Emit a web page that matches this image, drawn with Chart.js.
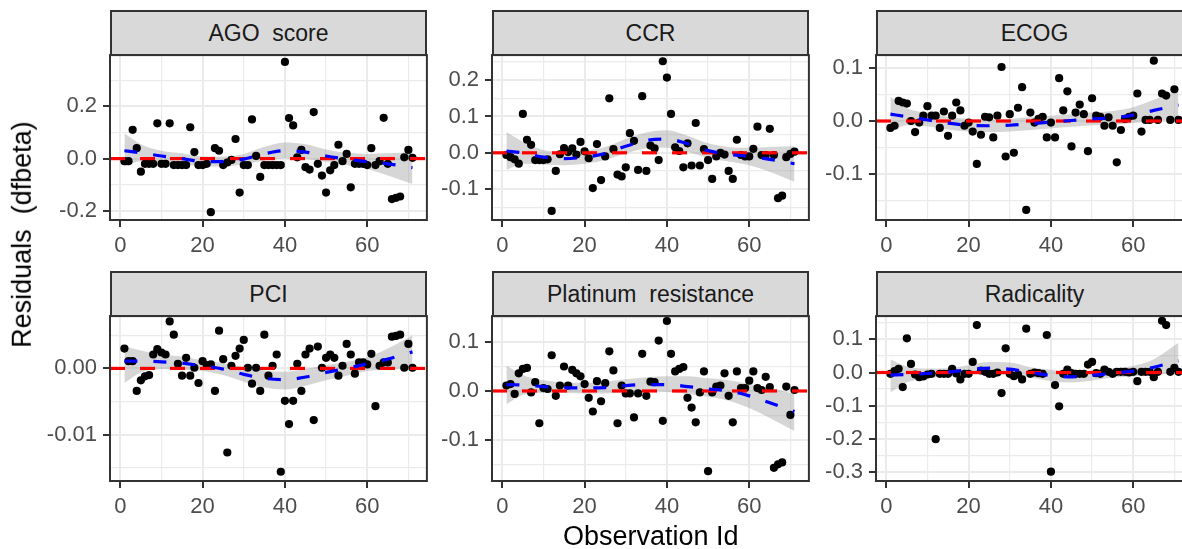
<!DOCTYPE html>
<html>
<head>
<meta charset="utf-8">
<script src="https://cdn.jsdelivr.net/npm/chart.js@4.4.1/dist/chart.umd.min.js"></script>
<style>
html,body{margin:0;padding:0;background:#fff;overflow:hidden;width:1182px;height:549px;}
#wrap{position:relative;width:1182px;height:549px;overflow:hidden;font-family:"Liberation Sans",Arial,sans-serif;}
.strip{position:absolute;box-sizing:border-box;background:#d9d9d9;border:2px solid #333;display:flex;align-items:center;justify-content:center;font-size:23px;color:#1a1a1a;white-space:pre;}
canvas{position:absolute;}
.title{position:absolute;font-size:27px;color:#000;white-space:pre;line-height:1;}
</style>
</head>
<body>
<div id="wrap"></div>
<script>
// ---------- data ----------
const OBS_ID = [1,2,3,4,5,6,7,8,9,10,11,12,13,14,15,16,17,18,19,20,21,22,23,24,25,26,27,28,29,30,31,32,33,34,35,36,37,38,39,40,41,42,43,44,45,46,47,48,49,50,51,52,53,54,55,56,57,58,59,60,61,62,63,64,65,66,67,68,69,70,71];
const SMOOTH_X = [1,5,10,15,20,25,30,35,40,45,50,55,60,65,71];
const PANEL_TITLES = ["AGO  score","CCR","ECOG","PCI","Platinum  resistance","Radicality"];

const AGO_VALUES = [-0.01,-0.01,0.11,0.04,-0.05,-0.02,-0.02,-0.02,0.135,-0.02,
 -0.02,0.135,-0.025,-0.025,-0.025,-0.025,0.12,0.025,-0.025,-0.025,
 -0.02,-0.205,0.04,0.03,-0.025,-0.015,-0.005,0.075,-0.13,-0.025,
 -0.025,0.15,0.01,-0.07,-0.025,-0.025,-0.025,-0.025,-0.025,0.37,
 0.155,0.127,0.005,0.033,-0.033,-0.042,0.178,-0.02,-0.065,-0.13,
 -0.045,-0.025,0.053,-0.01,0.018,-0.11,-0.02,-0.02,-0.02,-0.025,
 0.04,-0.025,-0.01,0.156,-0.02,-0.155,-0.15,-0.145,0.005,0.033,
 0.003];
const AGO_FIT = [0.03,0.022,0.01,0.0,-0.012,-0.012,-0.002,0.018,0.03,0.025,0.01,-0.002,-0.012,-0.02,-0.035];
const AGO_LO  = [-0.03,-0.01,-0.012,-0.02,-0.03,-0.03,-0.022,-0.008,0.0,-0.002,-0.012,-0.025,-0.04,-0.065,-0.097];
const AGO_HI  = [0.097,0.055,0.03,0.02,0.008,0.008,0.018,0.045,0.062,0.055,0.035,0.022,0.018,0.02,0.025];

const CCR_VALUES = [-0.006,-0.012,-0.018,-0.03,0.107,0.036,0.022,-0.02,-0.02,-0.02,
 -0.018,-0.16,-0.05,-0.004,0.013,0.002,0.012,-0.005,0.03,0.004,
 -0.015,-0.097,0.024,-0.075,-0.01,0.15,0.01,-0.06,-0.065,-0.04,
 0.054,0.033,-0.047,0.156,-0.05,0.02,0.012,-0.02,0.252,0.207,
 0.107,0.015,0.005,-0.04,0.026,-0.035,0.082,-0.035,0.01,-0.02,
 -0.072,-0.01,0.0,-0.005,-0.05,-0.072,0.036,-0.006,-0.01,-0.01,
 0.011,0.072,-0.006,-0.006,0.066,-0.006,-0.125,-0.118,-0.012,-0.003,
 0.003];
const CCR_FIT = [0.005,0.0,-0.012,-0.016,-0.012,-0.002,0.018,0.034,0.038,0.025,0.006,-0.004,-0.01,-0.018,-0.03];
const CCR_LO  = [-0.047,-0.03,-0.032,-0.034,-0.03,-0.02,-0.002,0.012,0.014,0.003,-0.014,-0.024,-0.034,-0.052,-0.08];
const CCR_HI  = [0.057,0.03,0.008,0.003,0.006,0.016,0.038,0.056,0.062,0.047,0.026,0.016,0.014,0.016,0.018];

const ECOG_VALUES = [-0.013,-0.009,0.038,0.035,0.033,0.0,-0.021,-0.003,0.01,0.028,
 0.01,0.01,-0.013,0.018,-0.028,0.01,0.035,0.02,-0.009,-0.003,
 -0.02,-0.081,-0.026,0.008,0.007,-0.031,0.01,0.102,-0.067,0.013,
 -0.06,0.025,0.064,-0.168,0.016,-0.003,0.004,0.008,-0.031,-0.003,
 -0.031,0.081,0.02,0.056,-0.048,0.016,0.031,0.013,-0.057,0.043,
 0.01,0.008,-0.009,0.007,-0.009,-0.078,-0.017,0.004,0.008,0.01,
 0.052,-0.02,0.002,0.002,0.114,0.002,0.052,0.048,0.002,0.06,
 0.002];
const ECOG_FIT = [0.013,0.008,0.002,-0.004,-0.008,-0.009,-0.008,-0.005,-0.002,0.001,0.004,0.006,0.011,0.02,0.03];
const ECOG_LO  = [-0.02,-0.008,-0.01,-0.016,-0.02,-0.021,-0.02,-0.017,-0.014,-0.011,-0.008,-0.007,-0.004,0.0,0.002];
const ECOG_HI  = [0.046,0.024,0.015,0.008,0.004,0.003,0.004,0.007,0.01,0.013,0.016,0.019,0.026,0.04,0.058];

const PCI_VALUES = [0.0030,0.0011,0.0011,-0.0034,-0.0018,-0.0012,-0.0010,0.0021,0.0029,0.0024,
 0.0021,0.0071,0.0051,0.0007,-0.0011,0.0016,-0.0011,0.0001,-0.0022,0.0011,
 0.0005,0.0006,-0.0034,0.0057,0.0014,-0.0127,0.0004,0.0019,0.0030,0.0043,
 0.0001,-0.0023,0.0001,-0.0034,0.0051,-0.0011,0.0004,0.0021,-0.0156,-0.0049,
 -0.0084,-0.0049,0.0007,-0.0034,0.0021,0.0030,-0.0078,0.0033,0.0001,0.0016,
 0.0021,0.0016,-0.0011,0.0004,0.0037,0.0021,-0.0008,0.0009,0.0009,0.0006,
 0.0022,-0.0057,0.0004,0.0009,0.0009,0.0048,0.0049,0.0051,0.0001,0.0037,
 0.0001];
const PCI_FIT = [0.0011,0.0011,0.0010,0.0008,0.0004,-0.0001,-0.0009,-0.0015,-0.0017,-0.0013,-0.0006,0.0000,0.0007,0.0014,0.0025];
const PCI_LO  = [-0.0022,-0.0006,-0.0001,-0.0002,-0.0004,-0.0010,-0.0020,-0.0029,-0.0032,-0.0026,-0.0018,-0.0011,-0.0004,-0.0002,0.0001];
const PCI_HI  = [0.0034,0.0027,0.0021,0.0018,0.0012,0.0008,0.0002,-0.0003,-0.0005,-0.0001,0.0005,0.0010,0.0017,0.0030,0.0050];

const PLAT_VALUES = [0.011,0.014,-0.006,0.036,0.045,0.047,-0.003,0.018,-0.066,0.006,
 0.004,0.073,-0.01,0.011,0.05,0.011,0.043,0.036,0.03,0.014,
 -0.014,-0.042,0.02,-0.021,0.016,0.081,0.042,-0.066,0.011,-0.005,
 -0.005,-0.054,-0.005,0.076,-0.01,0.019,0.018,0.103,-0.061,0.143,
 0.076,0.04,0.045,0.049,-0.014,-0.034,-0.064,-0.003,0.04,-0.164,
 -0.003,0.009,0.011,0.036,-0.01,-0.064,0.04,0.006,0.006,0.021,
 0.04,0.006,0.002,0.029,0.008,-0.157,-0.15,-0.146,0.009,-0.049,
 0.002];
const PLAT_FIT = [0.013,0.012,0.009,0.007,0.006,0.007,0.011,0.013,0.013,0.009,0.004,0.0,-0.01,-0.024,-0.042];
const PLAT_LO  = [-0.027,-0.008,-0.004,-0.004,-0.005,-0.005,-0.002,0.0,-0.002,-0.006,-0.012,-0.02,-0.035,-0.055,-0.082];
const PLAT_HI  = [0.052,0.032,0.022,0.018,0.017,0.019,0.024,0.028,0.03,0.03,0.026,0.022,0.014,0.006,-0.006];

const RAD_VALUES = [-0.004,0.004,0.011,-0.044,0.103,0.026,-0.006,-0.014,-0.012,-0.006,
 -0.004,-0.201,-0.004,-0.004,-0.004,0.011,-0.003,-0.021,-0.004,-0.004,
 0.032,0.143,0.006,0.002,-0.004,-0.004,0.0,-0.062,0.073,-0.004,
 -0.011,-0.006,-0.021,0.132,-0.004,0.0,-0.002,-0.004,0.113,-0.299,
 -0.038,-0.102,-0.004,0.009,-0.002,-0.004,-0.004,-0.004,0.024,0.032,
 -0.002,-0.004,0.009,0.002,-0.004,0.002,0.002,0.002,0.0,0.002,
 -0.026,0.002,0.002,0.002,-0.014,0.002,0.156,0.143,0.002,0.014,
 0.002];
const RAD_FIT = [-0.008,-0.006,-0.003,0.001,0.008,0.013,0.01,0.0,-0.009,-0.013,-0.009,-0.002,0.004,0.016,0.035];
const RAD_LO  = [-0.06,-0.03,-0.018,-0.011,-0.006,-0.005,-0.008,-0.016,-0.026,-0.03,-0.024,-0.016,-0.012,-0.006,-0.002];
const RAD_HI  = [0.04,0.018,0.012,0.013,0.022,0.032,0.03,0.016,0.008,0.004,0.006,0.012,0.02,0.04,0.09];

// reference line value
const REF_Y = 0;

// axes / ticks
const X_RANGE = [-2.5, 74.5];
const X_MAJOR = [0,20,40,60];
const X_LABELS = ["0","20","40","60"];
const X_MINOR = [10,30,50,70];

const AGO_Y_RANGE = [-0.235, 0.396];
const AGO_Y_MAJOR = [-0.2,0,0.2];
const AGO_Y_LABELS = ["-0.2","0.0","0.2"];
const AGO_Y_MINOR = [-0.1,0.1,0.3];

const CCR_Y_RANGE = [-0.185, 0.269];
const CCR_Y_MAJOR = [-0.1,0,0.1,0.2];
const CCR_Y_LABELS = ["-0.1","0.0","0.1","0.2"];
const CCR_Y_MINOR = [-0.15,-0.05,0.05,0.15,0.25];

const ECOG_Y_RANGE = [-0.187, 0.1245];
const ECOG_Y_MAJOR = [-0.1,0,0.1];
const ECOG_Y_LABELS = ["-0.1","0.0","0.1"];
const ECOG_Y_MINOR = [-0.15,-0.05,0.05];

const PCI_Y_RANGE = [-0.0170, 0.0079];
const PCI_Y_MAJOR = [-0.01,0];
const PCI_Y_LABELS = ["-0.01","0.00"];
const PCI_Y_MINOR = [-0.015,-0.005,0.005];

const PLAT_Y_RANGE = [-0.184, 0.153];
const PLAT_Y_MAJOR = [-0.1,0,0.1];
const PLAT_Y_LABELS = ["-0.1","0.0","0.1"];
const PLAT_Y_MINOR = [-0.15,-0.05,0.05,0.15];

const RAD_Y_RANGE = [-0.327, 0.17];
const RAD_Y_MAJOR = [-0.3,-0.2,-0.1,0,0.1];
const RAD_Y_LABELS = ["-0.3","-0.2","-0.1","0.0","0.1"];
const RAD_Y_MINOR = [-0.25,-0.15,-0.05,0.05,0.15];

const X_TITLE = "Observation Id";
const Y_TITLE = "Residuals  (dfbeta)";

// ---------- layout ----------
const FONT = '"Liberation Sans", Arial, sans-serif';
const COLS = [110, 492, 876];
const ROWS = [{strip:10, plot:55}, {strip:271, plot:316}];
const PW = 317, PH = 165;
const YW = 80, XH = 50, PADT = 4, PADR = 4;

const PANELS = [
  {title:PANEL_TITLES[0], vals:AGO_VALUES, fit:AGO_FIT, lo:AGO_LO, hi:AGO_HI, yr:AGO_Y_RANGE, ymaj:AGO_Y_MAJOR, ylab:AGO_Y_LABELS, ymin:AGO_Y_MINOR, col:0, row:0},
  {title:PANEL_TITLES[1], vals:CCR_VALUES, fit:CCR_FIT, lo:CCR_LO, hi:CCR_HI, yr:CCR_Y_RANGE, ymaj:CCR_Y_MAJOR, ylab:CCR_Y_LABELS, ymin:CCR_Y_MINOR, col:1, row:0},
  {title:PANEL_TITLES[2], vals:ECOG_VALUES, fit:ECOG_FIT, lo:ECOG_LO, hi:ECOG_HI, yr:ECOG_Y_RANGE, ymaj:ECOG_Y_MAJOR, ylab:ECOG_Y_LABELS, ymin:ECOG_Y_MINOR, col:2, row:0},
  {title:PANEL_TITLES[3], vals:PCI_VALUES, fit:PCI_FIT, lo:PCI_LO, hi:PCI_HI, yr:PCI_Y_RANGE, ymaj:PCI_Y_MAJOR, ylab:PCI_Y_LABELS, ymin:PCI_Y_MINOR, col:0, row:1},
  {title:PANEL_TITLES[4], vals:PLAT_VALUES, fit:PLAT_FIT, lo:PLAT_LO, hi:PLAT_HI, yr:PLAT_Y_RANGE, ymaj:PLAT_Y_MAJOR, ylab:PLAT_Y_LABELS, ymin:PLAT_Y_MINOR, col:1, row:1},
  {title:PANEL_TITLES[5], vals:RAD_VALUES, fit:RAD_FIT, lo:RAD_LO, hi:RAD_HI, yr:RAD_Y_RANGE, ymaj:RAD_Y_MAJOR, ylab:RAD_Y_LABELS, ymin:RAD_Y_MINOR, col:2, row:1}
];

const wrap = document.getElementById('wrap');

const borderPlugin = {
  id:'panelBorder',
  afterDraw(chart){
    const a = chart.chartArea, c = chart.ctx;
    c.save();
    c.strokeStyle = '#333333';
    c.lineWidth = 2;
    c.strokeRect(a.left, a.top, a.right - a.left, a.bottom - a.top);
    c.restore();
  }
};

function isIn(arr, v){ return arr.some(a => Math.abs(a - v) < 1e-9); }

function makePanel(p){
  const left = COLS[p.col], top = ROWS[p.row].plot;
  const s = document.createElement('div');
  s.className = 'strip';
  s.style.left = left + 'px';
  s.style.top = ROWS[p.row].strip + 'px';
  s.style.width = PW + 'px';
  s.style.height = (top - ROWS[p.row].strip + 1) + 'px';
  s.textContent = p.title;
  wrap.appendChild(s);

  const cv = document.createElement('canvas');
  const W = YW + PW + PADR, H = PADT + PH + XH;
  cv.width = W; cv.height = H;
  cv.style.width = W + 'px'; cv.style.height = H + 'px';
  cv.style.left = (left - YW) + 'px';
  cv.style.top = (top - PADT) + 'px';
  wrap.appendChild(cv);

  const xTicks = X_MAJOR.concat(X_MINOR).sort((a,b)=>a-b);
  const yTicks = p.ymaj.concat(p.ymin).sort((a,b)=>a-b);

  const points = OBS_ID.map((x,i)=>({x:x, y:p.vals[i]}));
  const fit = SMOOTH_X.map((x,i)=>({x:x, y:p.fit[i]}));
  const lo = SMOOTH_X.map((x,i)=>({x:x, y:p.lo[i]}));
  const hi = SMOOTH_X.map((x,i)=>({x:x, y:p.hi[i]}));
  const ref = [{x:X_RANGE[0], y:REF_Y}, {x:X_RANGE[1], y:REF_Y}];

  new Chart(cv, {
    type:'scatter',
    data:{datasets:[
      {type:'line', data:lo, borderWidth:0, borderColor:'rgba(0,0,0,0)', pointRadius:0, fill:false, cubicInterpolationMode:'monotone', order:4},
      {type:'line', data:hi, borderWidth:0, borderColor:'rgba(0,0,0,0)', pointRadius:0, fill:0, backgroundColor:'rgba(153,153,153,0.4)', cubicInterpolationMode:'monotone', order:3},
      {type:'scatter', data:points, pointRadius:4.1, pointBackgroundColor:'#000', pointBorderWidth:0, pointBorderColor:'#000', order:2, clip:5},
      {type:'line', data:ref, borderColor:'#ff0000', borderWidth:3.2, borderDash:[15,15], pointRadius:0, fill:false, order:1},
      {type:'line', data:fit, borderColor:'#0000ff', borderWidth:3.2, borderDash:[13,16], pointRadius:0, fill:false, cubicInterpolationMode:'monotone', order:0}
    ]},
    options:{
      responsive:false, animation:false, devicePixelRatio:1,
      layout:{padding:{top:PADT, right:PADR, left:0, bottom:0}},
      plugins:{legend:{display:false}, tooltip:{enabled:false}},
      scales:{
        x:{type:'linear', min:X_RANGE[0], max:X_RANGE[1],
          afterBuildTicks(sc){ sc.ticks = xTicks.map(v=>({value:v})); },
          afterFit(sc){ sc.height = XH; sc.paddingLeft = 0; sc.paddingRight = 0; sc.paddingTop = 0; sc.paddingBottom = 0; },
          border:{display:false},
          grid:{
            color:'#ebebeb',
            lineWidth:(c)=> (c.tick && isIn(X_MAJOR, c.tick.value)) ? 2 : 1.2,
            tickLength:7,
            tickColor:(c)=> (c.tick && isIn(X_MAJOR, c.tick.value)) ? '#333333' : 'rgba(0,0,0,0)',
            tickWidth:2
          },
          ticks:{autoSkip:false, maxRotation:0, minRotation:0, padding:6, color:'#4d4d4d', font:{family:FONT, size:22},
            callback:(v)=>{ const i = X_MAJOR.findIndex(a=>Math.abs(a-v)<1e-9); return i>=0 ? X_LABELS[i] : ''; }}
        },
        y:{type:'linear', min:p.yr[0], max:p.yr[1],
          afterBuildTicks(sc){ sc.ticks = yTicks.map(v=>({value:v})); },
          afterFit(sc){ sc.width = YW; sc.paddingTop = 0; sc.paddingBottom = 0; sc.paddingLeft = 0; sc.paddingRight = 0; },
          border:{display:false},
          grid:{
            color:'#ebebeb',
            lineWidth:(c)=> (c.tick && isIn(p.ymaj, c.tick.value)) ? 2 : 1.2,
            tickLength:7,
            tickColor:(c)=> (c.tick && isIn(p.ymaj, c.tick.value)) ? '#333333' : 'rgba(0,0,0,0)',
            tickWidth:2
          },
          ticks:{autoSkip:false, padding:6, color:'#4d4d4d', font:{family:FONT, size:22},
            callback:(v)=>{ const i = p.ymaj.findIndex(a=>Math.abs(a-v)<1e-9); return i>=0 ? p.ylab[i] : ''; }}
        }
      }
    },
    plugins:[borderPlugin]
  });
}

PANELS.forEach(makePanel);

const xt = document.createElement('div');
xt.className = 'title';
xt.textContent = X_TITLE;
wrap.appendChild(xt);
xt.style.left = (651 - xt.offsetWidth/2) + 'px';
xt.style.top = (536 - xt.offsetHeight/2) + 'px';

const yt = document.createElement('div');
yt.className = 'title';
yt.textContent = Y_TITLE;
wrap.appendChild(yt);
const yw = yt.offsetWidth, yh = yt.offsetHeight;
yt.style.left = (22 - yw/2) + 'px';
yt.style.top = (234 - yh/2) + 'px';
yt.style.transform = 'rotate(-90deg)';
</script>
</body>
</html>
